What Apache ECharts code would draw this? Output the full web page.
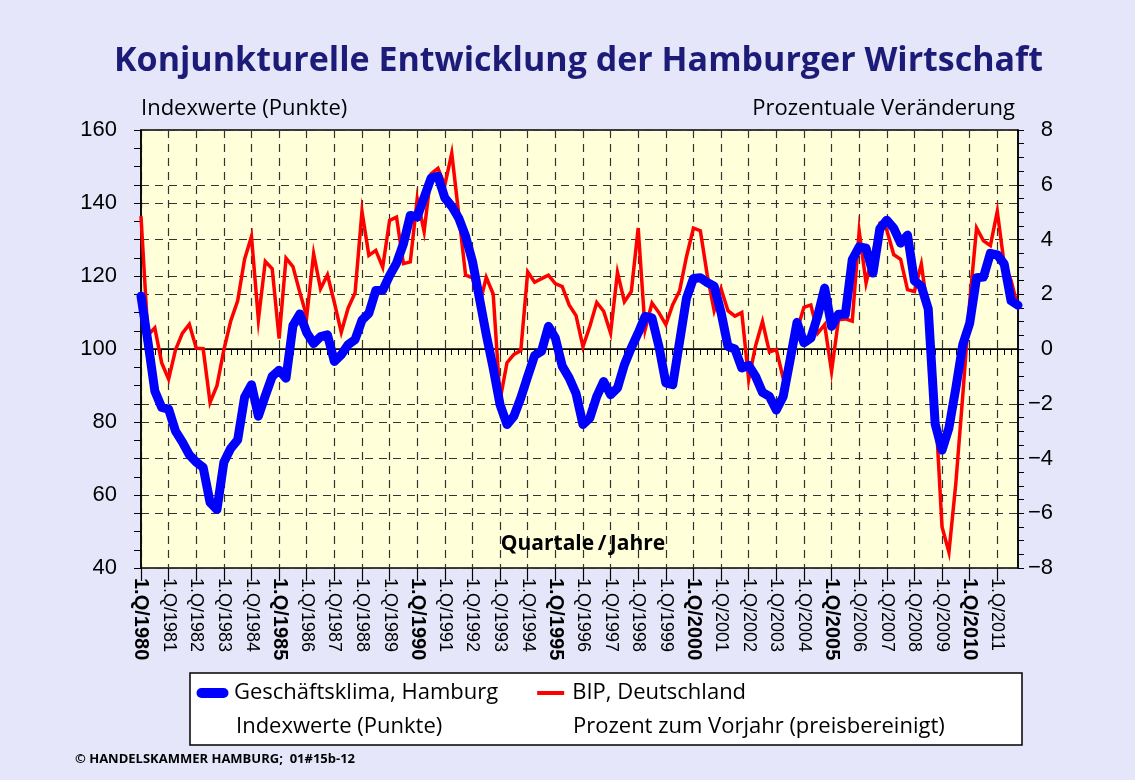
<!DOCTYPE html>
<html>
<head>
<meta charset="utf-8">
<script src="https://cdn.jsdelivr.net/npm/echarts@6/dist/echarts.min.js"></script>
<style>
html, body { margin: 0; padding: 0; background: #e6e6fa; }
#chart { width: 1135px; height: 780px; }
</style>
</head>
<body>
<div id="chart"></div>
<script>
var firstYear = 1980;
var lastYear = 2011;

// Geschäftsklima Hamburg, Indexwerte (Punkte) - eine Zeile pro Jahr (1.Q .. 4.Q)
var klima = [
    114.5, 102, 88.5, 84,        // 1980
    83.5, 77.5, 74.5, 71,        // 1981
    69, 67.6, 58, 56,            // 1982
    69, 72.8, 75.1, 86.8,        // 1983
    90.2, 81.6, 87.2, 92.5,      // 1984
    94.2, 92, 106.4, 109.6,      // 1985
    104.5, 101.5, 103.4, 103.9,  // 1986
    96.6, 98.4, 101.2, 102.6,    // 1987
    107.9, 109.8, 116, 116.1,    // 1988
    120.1, 123.5, 128.8, 136.6,  // 1989
    136.2, 141.5, 146.8, 147.3,  // 1990
    141.4, 139.1, 135.9, 130.9,  // 1991
    124, 114, 103.9, 94.8,       // 1992
    84.7, 79.3, 81.6, 86.6,      // 1993
    92.5, 98.2, 99.4, 106.2,     // 1994
    103, 95.3, 92.1, 87.8,       // 1995
    79.3, 81.1, 87, 91.1,        // 1996
    87.5, 89.3, 95.7, 100.3,     // 1997
    104.4, 108.9, 108.5, 100.7,  // 1998
    90.7, 90.2, 102.1, 114,      // 1999
    119.3, 119.5, 118.2, 117.2,  // 2000
    110, 100.7, 100, 94.8,       // 2001
    95.5, 92.5, 88.1, 87,        // 2002
    83.3, 87, 97, 107.3,         // 2003
    101.7, 103, 109.1, 116.7,    // 2004
    106.2, 109.5, 109.5, 124.5,  // 2005
    128, 127.6, 120.8, 133,      // 2006
    135.3, 133.1, 129, 131.2,    // 2007
    118.7, 117.2, 111, 79.5,     // 2008
    72.3, 78.4, 89.3, 101.2,     // 2009
    107, 119.5, 119.7, 126.2,    // 2010
    125.8, 123.3, 113.2, 112     // 2011
];

// BIP Deutschland, Prozent zum Vorjahr (preisbereinigt)
var bip = [
    4.85, 0.5, 0.77, -0.51,      // 1980
    -1.1, -0.03, 0.58, 0.9,      // 1981
    0.03, 0.01, -1.95, -1.34,    // 1982
    -0.03, 1.03, 1.76, 3.28,     // 1983
    4.11, 1.07, 3.2, 2.93,       // 1984
    0.38, 3.32, 3.01, 2.07,      // 1985
    1.19, 3.48, 2.2, 2.71,       // 1986
    1.7, 0.61, 1.5, 2.05,        // 1987
    5.03, 3.42, 3.6, 2.99,       // 1988
    4.7, 4.82, 3.12, 3.18,       // 1989
    5.49, 4.29, 6.4, 6.6,        // 1990
    5.99, 7.15, 4.96, 2.7,       // 1991
    2.6, 1.6, 2.62, 2.01,        // 1992
    -1.86, -0.5, -0.2, -0.06,    // 1993
    2.82, 2.44, 2.57, 2.7,       // 1994
    2.39, 2.28, 1.61, 1.22,      // 1995
    0.08, 0.83, 1.7, 1.38,       // 1996
    0.58, 2.8, 1.73, 2.1,        // 1997
    4.42, 0.71, 1.68, 1.33,      // 1998
    0.89, 1.62, 2.13, 3.38,      // 1999
    4.42, 4.32, 2.7, 1.4,        // 2000
    2.2, 1.4, 1.2, 1.33,         // 2001
    -1.12, 0.12, 1.0, -0.11,     // 2002
    -0.02, -1.07, -0.4, 0.7,     // 2003
    1.52, 1.61, 0.58, 0.89,      // 2004
    -0.82, 1.07, 1.1, 1.02,      // 2005
    4.3, 2.41, 3.49, 4.57,       // 2006
    4.35, 3.45, 3.28, 2.17,      // 2007
    2.1, 3.1, 1.3, -1.9,         // 2008
    -6.5, -7.42, -4.9, -1.7,     // 2009
    1.7, 4.42, 3.95, 3.78,       // 2010
    5.03, 3.1, 2.5, 1.5          // 2011
];

var legendNames = ['Geschäftsklima, Hamburg', 'BIP, Deutschland'];
var legendSubText = ['Indexwerte (Punkte)', 'Prozent zum Vorjahr (preisbereinigt)'];

// Quartale als Kategorien: "1.Q/1980" ...
var quarters = [];
for (var y = firstYear; y <= lastYear; y++) {
    for (var q = 1; q <= 4; q++) {
        quarters.push(q + '.Q/' + y);
    }
}

var humanist = '"Open Sans", "Noto Sans", sans-serif';
var arial = '"Liberation Sans", Arial, sans-serif';
var dashed = { type: [8, 6], color: '#333', width: 1.2 };

// Legenden-Symbole: dicker Balken mit runden Enden / duenner Balken
// (die M-Punkte spannen jeweils den gleichen 33x11 Rahmen auf)
var iconBlue = 'path://M0,0M33,11M5.5,0.5H27.5A5,5,0,0,1,27.5,10.5H5.5A5,5,0,0,1,5.5,0.5Z';
var iconRed = 'path://M0,0M33,11M3,3.5H30V7.5H3Z';

var chart = echarts.init(document.getElementById('chart'));

var option = {
    animation: false,
    backgroundColor: '#e6e6fa',
    title: {
        text: 'Konjunkturelle Entwicklung der Hamburger Wirtschaft',
        left: 109,
        top: 39,
        textStyle: { fontFamily: humanist, fontSize: 34, fontWeight: 'bold', color: '#1c1c78' }
    },
    grid: {
        left: 141, right: 117, top: 130, bottom: 212,
        show: true,
        backgroundColor: '#ffffd9',
        borderColor: '#000',
        borderWidth: 1.5
    },
    legend: {
        left: 196,
        top: 682,
        padding: 0,
        itemWidth: 33,
        itemHeight: 11,
        itemGap: 36,
        symbolKeepAspect: false,
        textStyle: { fontFamily: humanist, fontSize: 22, color: '#000' },
        data: [
            { name: legendNames[0], icon: iconBlue, itemStyle: { color: '#0000ff' } },
            { name: legendNames[1], icon: iconRed, itemStyle: { color: '#ff0000' } }
        ]
    },
    xAxis: [
        {
            type: 'category',
            data: quarters,
            boundaryGap: false,
            axisLine: { lineStyle: { color: '#000', width: 1.5 } },
            axisTick: { interval: 0, length: 6, lineStyle: { color: '#000', width: 1 } },
            axisLabel: {
                interval: 3,
                rotate: -90,
                margin: 10,
                fontFamily: arial,
                fontSize: 18,
                color: '#000',
                formatter: function (value) {
                    var yr = parseInt(value.split('/')[1], 10);
                    return yr % 5 === 0 ? '{b|' + value + '}' : value;
                },
                rich: {
                    b: { fontFamily: arial, fontSize: 20, fontWeight: 'bold', color: '#000' }
                }
            },
            splitLine: { show: true, interval: 3, lineStyle: dashed }
        },
        {
            type: 'category',
            data: quarters,
            boundaryGap: false,
            position: 'bottom',
            axisLine: { show: false },
            axisLabel: { show: false },
            axisTick: { interval: 3, length: 13, lineStyle: { color: '#000', width: 1.2 } },
            splitLine: { show: false }
        }
    ],
    yAxis: [
        {
            type: 'value',
            position: 'left',
            min: 40, max: 160, interval: 20,
            axisLine: { show: true, lineStyle: { color: '#000', width: 1.5 } },
            axisTick: { show: true, length: 7, lineStyle: { color: '#000' } },
            minorTick: { show: true, splitNumber: 4, length: 7, lineStyle: { color: '#000' } },
            axisLabel: { margin: 24, fontFamily: arial, fontSize: 22, color: '#000' },
            splitLine: { show: true, lineStyle: dashed },
            name: 'Indexwerte (Punkte)',
            nameLocation: 'end',
            nameGap: 10,
            nameTextStyle: { align: 'left', fontFamily: humanist, fontSize: 22, color: '#000' }
        },
        {
            type: 'value',
            position: 'right',
            min: -8, max: 8, interval: 2,
            axisLine: { show: true, lineStyle: { color: '#000', width: 1.5 } },
            axisTick: { show: true, length: 6, lineStyle: { color: '#000' } },
            minorTick: { show: true, splitNumber: 4, length: 6, lineStyle: { color: '#000' } },
            axisLabel: {
                margin: 35,
                align: 'right',
                fontFamily: arial,
                fontSize: 22,
                color: '#000',
                formatter: function (v) { return String(v).replace('-', '\u2212'); }
            },
            splitLine: { show: true, lineStyle: dashed },
            name: 'Prozentuale Veränderung',
            nameLocation: 'end',
            nameGap: 10,
            nameTextStyle: { align: 'right', padding: [0, 3, 0, 0], fontFamily: humanist, fontSize: 22, color: '#000' }
        }
    ],
    series: [
        {
            name: legendNames[1],
            type: 'line',
            yAxisIndex: 1,
            data: bip,
            symbol: 'none',
            z: 2,
            lineStyle: { color: '#ff0000', width: 3.5, join: 'miter' },
            itemStyle: { color: '#ff0000' },
            markLine: {
                silent: true,
                symbol: 'none',
                z: 1,
                label: { show: false },
                lineStyle: { color: '#000', type: 'solid', width: 1.2 },
                data: [{ yAxis: 0 }]
            }
        },
        {
            name: legendNames[0],
            type: 'line',
            yAxisIndex: 0,
            data: klima,
            symbol: 'none',
            z: 3,
            lineStyle: { color: '#0000ff', width: 9, cap: 'round', join: 'round' },
            itemStyle: { color: '#0000ff' }
        }
    ],
    graphic: [
        {
            type: 'text',
            x: 583, y: 544, z: 10,
            style: {
                text: 'Quartale\u2009/\u2009Jahre',
                align: 'center', verticalAlign: 'middle',
                font: 'bold 21px ' + humanist, fill: '#000'
            }
        },
        {
            type: 'rect',
            z: -1,
            shape: { x: 190, y: 673, width: 832, height: 72 },
            style: { fill: '#fff', stroke: '#000', lineWidth: 1.5 }
        },
        {
            type: 'text',
            left: 236, top: 716,
            style: { text: legendSubText[0], font: '22px ' + humanist, fill: '#000' }
        },
        {
            type: 'text',
            left: 573, top: 716,
            style: { text: legendSubText[1], font: '22px ' + humanist, fill: '#000' }
        },
        {
            type: 'text',
            left: 75, top: 753,
            style: { text: '\u00a9 HANDELSKAMMER HAMBURG;  01#15b-12', font: 'bold 13px ' + humanist, fill: '#000' }
        }
    ]
};

chart.setOption(option);
</script>
</body>
</html>
